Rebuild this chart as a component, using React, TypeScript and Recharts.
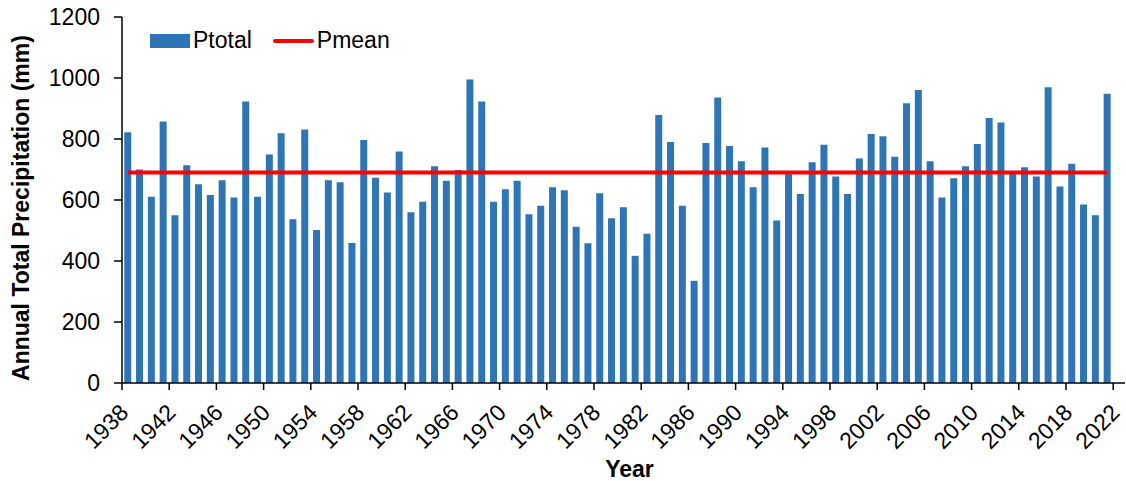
import React from 'react';
import {
  ComposedChart,
  Bar,
  Line,
  XAxis,
  YAxis,
  Legend,
} from 'recharts';

// categories (2022 has an axis slot but no value)
const years = [
  1938, 1939, 1940, 1941, 1942, 1943, 1944, 1945, 1946, 1947,
  1948, 1949, 1950, 1951, 1952, 1953, 1954, 1955, 1956, 1957,
  1958, 1959, 1960, 1961, 1962, 1963, 1964, 1965, 1966, 1967,
  1968, 1969, 1970, 1971, 1972, 1973, 1974, 1975, 1976, 1977,
  1978, 1979, 1980, 1981, 1982, 1983, 1984, 1985, 1986, 1987,
  1988, 1989, 1990, 1991, 1992, 1993, 1994, 1995, 1996, 1997,
  1998, 1999, 2000, 2001, 2002, 2003, 2004, 2005, 2006, 2007,
  2008, 2009, 2010, 2011, 2012, 2013, 2014, 2015, 2016, 2017,
  2018, 2019, 2020, 2021, 2022,
];

// annual total precipitation (mm), 1938-2021
const ptotal = [
  822, 700, 611, 857, 550, 714, 652, 616, 665, 608,
  923, 611, 749, 819, 537, 831, 502, 665, 658, 459,
  797, 673, 625, 759, 560, 594, 711, 663, 698, 995,
  923, 594, 635, 663, 553, 581, 642, 632, 512, 458,
  622, 540, 576, 417, 489, 879, 790, 581, 335, 787,
  936, 777, 727, 642, 772, 533, 686, 620, 724, 781,
  677, 620, 736, 816, 809, 742, 917, 961, 727, 608,
  671, 711, 784, 869, 854, 688, 707, 677, 970, 644,
  719, 585, 550, 948,
];

// long-term mean (mm)
const PMEAN = 690;

const yTicks = [0, 200, 400, 600, 800, 1000, 1200];

const data = years.map((year, i) => ({
  year,
  ptotal: i < ptotal.length ? ptotal[i] : null,
  pmean: i < ptotal.length ? PMEAN : null,
}));

const FONT = '"Liberation Sans", Arial, sans-serif';
const BAR_COLOR = '#2E75B6';
const LINE_COLOR = '#FF0000';

const WIDTH = 1126;
const HEIGHT = 481;
const MARGIN = { top: 17, right: 1, bottom: 0, left: 0 };
const Y_AXIS_WIDTH = 122;
const BAND = (WIDTH - MARGIN.left - MARGIN.right - Y_AXIS_WIDTH) / years.length;

// tick mark on the category boundary, rotated label under the category
const YearTick = (props: any) => {
  const { x, y, payload } = props;
  const half = payload && payload.offset > 0 ? payload.offset : BAND / 2;
  const tx = x + 2;
  const ty = y + 31;
  return (
    <g>
      <line x1={x - half} x2={x - half} y1={y} y2={y + 7} stroke="#000" strokeWidth={1.5} />
      <text
        x={tx}
        y={ty}
        textAnchor="end"
        transform={`rotate(-45 ${tx} ${ty})`}
        fontSize={23}
        fontFamily={FONT}
        fill="#000"
      >
        {payload.value}
      </text>
    </g>
  );
};

const LegendContent = () => (
  <div
    style={{
      display: 'flex',
      alignItems: 'center',
      fontFamily: FONT,
      fontSize: 23,
      lineHeight: '23px',
      color: '#000',
      whiteSpace: 'nowrap',
    }}
  >
    <span style={{ display: 'inline-block', width: 40, height: 14, background: BAR_COLOR, marginRight: 3 }} />
    <span>Ptotal</span>
    <span
      style={{
        display: 'inline-block',
        width: 41,
        height: 4,
        background: LINE_COLOR,
        borderRadius: 2,
        marginLeft: 21,
        marginRight: 3,
      }}
    />
    <span>Pmean</span>
  </div>
);

export default function App() {
  return (
    <div style={{ position: 'fixed', left: 0, top: 0, width: WIDTH, height: HEIGHT, background: '#fff' }}>
      <ComposedChart width={WIDTH} height={HEIGHT} data={data} margin={MARGIN} barCategoryGap="19%">
        <XAxis
          dataKey="year"
          height={98}
          interval={3}
          tickLine={false}
          tickSize={0}
          tickMargin={0}
          axisLine={{ stroke: '#000', strokeWidth: 1.5 }}
          tick={<YearTick />}
          label={{
            content: (p: any) => {
              const vb = p.viewBox || {};
              return (
                <text
                  x={vb.x + vb.width / 2 + 6}
                  y={477}
                  textAnchor="middle"
                  fontSize={23}
                  fontWeight="bold"
                  fontFamily={FONT}
                  fill="#000"
                >
                  Year
                </text>
              );
            },
          }}
        />
        <XAxis
          xAxisId="top"
          dataKey="year"
          orientation="top"
          height={0}
          tick={false}
          tickLine={false}
          axisLine={{ stroke: '#000', strokeWidth: 1.5 }}
        />
        <YAxis
          width={Y_AXIS_WIDTH}
          domain={[0, 1200]}
          ticks={yTicks}
          interval={0}
          tickSize={8}
          tickMargin={14}
          axisLine={{ stroke: '#000', strokeWidth: 1.5 }}
          tickLine={{ stroke: '#000', strokeWidth: 1.5 }}
          tick={{ fontSize: 23, fontFamily: FONT, fill: '#000' }}
          label={{
            content: (p: any) => {
              const vb = p.viewBox || {};
              const cx = 29;
              const cy = vb.y + vb.height / 2 + 8;
              return (
                <text
                  x={cx}
                  y={cy}
                  textAnchor="middle"
                  transform={`rotate(-90 ${cx} ${cy})`}
                  fontSize={23}
                  fontWeight="bold"
                  fontFamily={FONT}
                  fill="#000"
                >
                  Annual Total Precipitation (mm)
                </text>
              );
            },
          }}
        />
        <YAxis
          yAxisId="right"
          orientation="right"
          width={0}
          domain={[0, 1200]}
          tick={false}
          tickLine={false}
          axisLine={{ stroke: '#000', strokeWidth: 1.5 }}
        />
        <Legend
          layout="horizontal"
          verticalAlign="middle"
          align="center"
          wrapperStyle={{ top: 29, left: 150, width: 'auto' }}
          content={<LegendContent />}
        />
        <Bar dataKey="ptotal" name="Ptotal" fill={BAR_COLOR} isAnimationActive={false} />
        <Line
          dataKey="pmean"
          name="Pmean"
          stroke={LINE_COLOR}
          strokeWidth={4}
          dot={false}
          activeDot={false}
          legendType="line"
          isAnimationActive={false}
        />
      </ComposedChart>
    </div>
  );
}
